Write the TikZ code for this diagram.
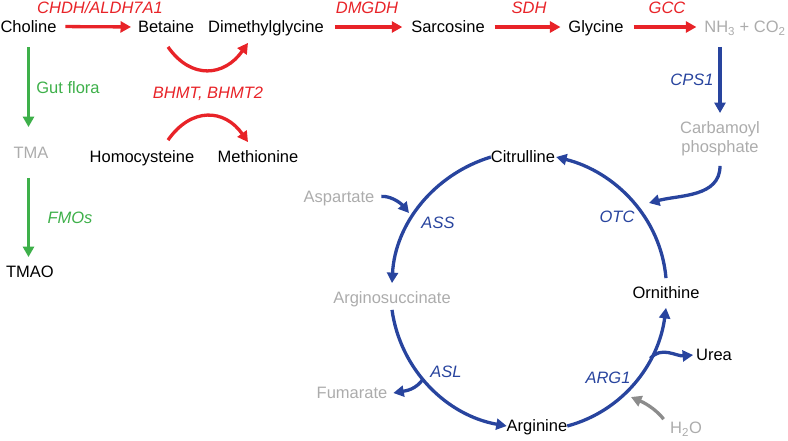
\documentclass[tikz,border=0pt]{standalone}
\usepackage{fontspec}
\setmainfont{Liberation Sans}
\usetikzlibrary{arrows.meta}
\definecolor{cred}{RGB}{232,35,40}
\definecolor{cgreen}{RGB}{62,176,74}
\definecolor{cblue}{RGB}{40,68,158}
\definecolor{cgray}{RGB}{172,172,172}
\definecolor{carrgray}{RGB}{140,140,140}
\begin{document}
\begin{tikzpicture}[x=1pt,y=1pt,
  every node/.style={inner sep=0pt, outer sep=0pt, font=\fontsize{16.5}{19.5}\selectfont, text height=11.8pt, text depth=0pt},
  lab/.style={font=\fontsize{16.5}{19.5}\selectfont\itshape},
  gr/.style={text=cgray},
  arr/.style={line width=3.3pt, -{Triangle[length=10.5pt,width=11pt]}},
  rarr/.style={arr, draw=cred},
  garr/.style={arr, draw=cgreen},
  barr/.style={arr, draw=cblue},
  grarr/.style={arr, draw=carrgray}]
\useasboundingbox (0,0) rectangle (788,-440);

% metabolites
\node (chol) at (28.5,-26.5) {Choline};
\node (bet) at (166,-27) {Betaine};
\node (dmg) at (266,-27) {Dimethylglycine};
\node (sar) at (448,-27) {Sarcosine};
\node (gly) at (596,-27) {Glycine};
\node[gr] (nh3) at (745,-27) {NH\textsubscript{3} + CO\textsubscript{2}};
\node[gr] (tma) at (31,-153) {TMA};
\node (tmao) at (30,-272) {TMAO};
\node (hcy) at (142,-157) {Homocysteine};
\node (met) at (258,-157) {Methionine};
\node[gr, align=center, text height=, text depth=] (carb) at (720,-138.5) {Carbamoyl\\phosphate};
\node (cit) at (523,-157) {Citrulline};
\node (orn) at (666,-293) {Ornithine};
\node (arg) at (537,-426) {Arginine};
\node[gr] (args) at (392,-298) {Arginosuccinate};
\node[gr] (asp) at (339,-197) {Aspartate};
\node[gr] (fum) at (352,-393) {Fumarate};
\node (urea) at (714,-355) {Urea};
\node[gr] (h2o) at (686,-428) {H\textsubscript{2}O};

% enzyme labels
\node[lab, text=cred] (e1) at (100,-7.5) {CHDH/ALDH7A1};
\node[lab, text=cred] (e2) at (367,-7.5) {DMGDH};
\node[lab, text=cred] (e3) at (529,-7.5) {SDH};
\node[lab, text=cred] (e4) at (667,-7.5) {GCC};
\node[lab, text=cred] (e5) at (208,-93) {BHMT, BHMT2};
\node[text=cgreen] (e6) at (68,-88) {Gut flora};
\node[lab, text=cgreen] (e7) at (70,-218) {FMOs};
\node[lab, text=cblue] (e8) at (692,-80) {CPS1};
\node[lab, text=cblue] (e9) at (617,-217) {OTC};
\node[lab, text=cblue] (e10) at (438,-223) {ASS};
\node[lab, text=cblue] (e11) at (446,-372) {ASL};
\node[lab, text=cblue] (e12) at (608,-378) {ARG1};

% free arrow ends
\coordinate (asptip) at (409,-213);
\coordinate (carbtip) at (649,-203);
\coordinate (h2otip) at (631,-397);

% red pathway
\draw[rarr, shorten <=9pt, shorten >=7pt] (chol.east) -- (bet.west);
\draw[rarr, shorten <=11pt, shorten >=9pt] (dmg.east) -- (sar.west);
\draw[rarr, shorten <=10pt, shorten >=8pt] (sar.east) -- (gly.west);
\draw[rarr, shorten <=10pt, shorten >=8pt] (gly.east) -- (nh3.west);
\draw[rarr] ([xshift=2pt,yshift=-14pt]bet.south) to[out=-55,in=-125,looseness=1.3] ([xshift=-18pt,yshift=-10pt]dmg.south);
\draw[rarr] ([xshift=26pt,yshift=11pt]hcy.north) to[out=55,in=125,looseness=1.3] ([xshift=-10pt,yshift=9pt]met.north);

% green pathway
\draw[garr, shorten <=15pt, shorten >=20pt] (chol.south) -- (chol.south |- tma.north);
\draw[garr, shorten <=19pt, shorten >=9pt] (chol.south |- tma.south) -- (chol.south |- tmao.north);

% blue: CPS1 and urea cycle
\draw[barr, shorten <=14pt, shorten >=8pt] (nh3.south -| carb.north) -- (carb.north);
\draw[barr] ([yshift=-10pt]carb.south) to[out=-90,in=15] (carbtip);
\draw[barr] ([yshift=9pt]orn.north) to[out=95,in=-14,looseness=0.95] ([xshift=1pt]cit.east);
\draw[barr] (cit.west) to[out=197,in=87,looseness=0.95] ([yshift=9pt]args.north);
\draw[barr] ([yshift=-6pt]args.south) to[out=278,in=170,looseness=0.95] node[coordinate,pos=0.44] (fumpt) {} (arg.west);
\draw[barr] (arg.east) to[out=15,in=-97.5,looseness=0.95] node[coordinate,pos=0.68] (ureapt) {} ([yshift=-9pt]orn.south);
\draw[barr, shorten <=7pt] (asp.east) to[out=5,in=130] (asptip);
\draw[barr] (fumpt) to[out=-125,in=10] ([xshift=6pt]fum.east);
\draw[barr] (ureapt) to[out=50,in=185] ([xshift=-3pt]urea.west);
\draw[grarr, shorten <=11pt] (h2o.west) to[bend right=15] (h2otip);
\end{tikzpicture}
\end{document}
